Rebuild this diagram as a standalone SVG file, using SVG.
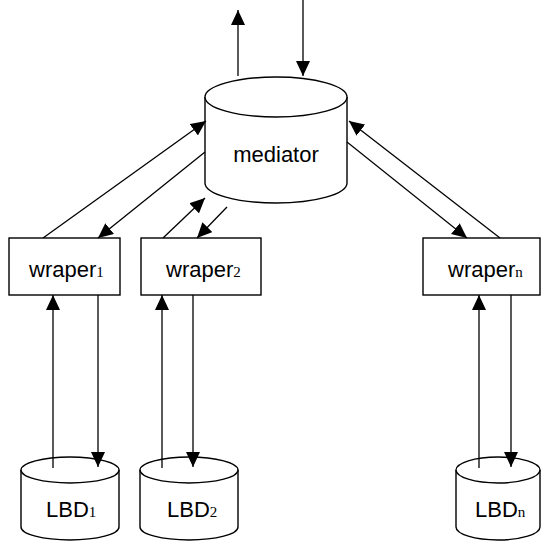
<svg xmlns="http://www.w3.org/2000/svg" width="541" height="541" viewBox="0 0 541 541">
<style>
.shape{fill:#fff;stroke:#000;stroke-width:1.4}
.conn{fill:none;stroke:#000;stroke-width:1.3;marker-end:url(#ah)}
.lbl{font-family:"Liberation Sans",Arial,sans-serif;font-size:22px;fill:#000}
.sub{font-family:"Liberation Serif","Times New Roman",serif;font-size:15px}
</style>
<defs>
<marker id="ah" markerUnits="userSpaceOnUse" markerWidth="15" markerHeight="14" refX="15" refY="7" orient="auto">
<path d="M0,0 L15,7 L0,14 Z" fill="#000"/>
</marker>
</defs>
<rect width="541" height="541" fill="#fff"/>
<g id="mediator">
<path class="shape" d="M205,97 V183 A71,20 0 0 0 347,183 V97"/>
<ellipse class="shape" cx="276" cy="97" rx="71" ry="20"/>
<text class="lbl" x="276" y="162" text-anchor="middle">mediator</text>
</g>
<g id="wraper1">
<rect class="shape" x="9" y="238" width="111" height="57"/>
<text class="lbl" x="29" y="277">wraper<tspan class="sub">1</tspan></text>
</g>
<g id="wraper2">
<rect class="shape" x="141" y="238" width="120" height="57"/>
<text class="lbl" x="166" y="277">wraper<tspan class="sub">2</tspan></text>
</g>
<g id="wrapern">
<rect class="shape" x="423" y="238" width="117" height="57"/>
<text class="lbl" x="448" y="277">wraper<tspan class="sub">n</tspan></text>
</g>
<g id="lbd1">
<path class="shape" d="M21,470 V527 A49,13 0 0 0 119,527 V470"/>
<ellipse class="shape" cx="70" cy="470" rx="49" ry="13"/>
<text class="lbl" x="46" y="517">LBD<tspan class="sub">1</tspan></text>
</g>
<g id="lbd2">
<path class="shape" d="M140,470 V527 A49,13 0 0 0 238,527 V470"/>
<ellipse class="shape" cx="189" cy="470" rx="49" ry="13"/>
<text class="lbl" x="167" y="517">LBD<tspan class="sub">2</tspan></text>
</g>
<g id="lbdn">
<path class="shape" d="M456,470 V527 A42,13 0 0 0 540,527 V470"/>
<ellipse class="shape" cx="498" cy="470" rx="42" ry="13"/>
<text class="lbl" x="475" y="517">LBD<tspan class="sub">n</tspan></text>
</g>
<g id="connectors">
<path class="conn" d="M238,76 L238,10"/>
<path class="conn" d="M303,0 L303,76"/>
<path class="conn" d="M43,238 L206,121"/>
<path class="conn" d="M205,152 L98,238"/>
<path class="conn" d="M163,238 L205,198"/>
<path class="conn" d="M227,207 L197,238"/>
<path class="conn" d="M500,238 L349,121"/>
<path class="conn" d="M347,142 L467,238"/>
<path class="conn" d="M53,468 L53,295"/>
<path class="conn" d="M98,295 L98,467"/>
<path class="conn" d="M162,468 L162,295"/>
<path class="conn" d="M193,295 L193,467"/>
<path class="conn" d="M479,468 L479,295"/>
<path class="conn" d="M511,295 L511,467"/>
</g>
</svg>
